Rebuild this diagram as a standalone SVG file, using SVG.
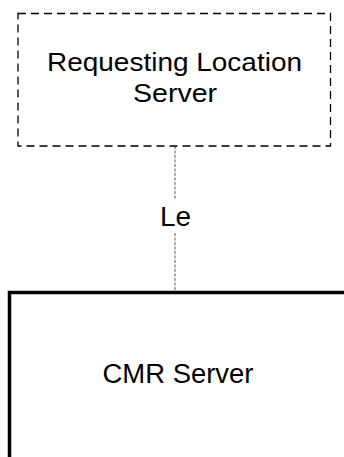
<svg xmlns="http://www.w3.org/2000/svg" width="344" height="457" viewBox="0 0 344 457">
<style>
.t{font-family:"Liberation Sans",Arial,sans-serif;font-size:26px;fill:#000;text-anchor:middle}
.dash{fill:none;stroke:#000;stroke-width:1.3;stroke-dasharray:8 5}
.solid{fill:none;stroke:#000;stroke-width:3.5}
.conn{fill:none;stroke:#777;stroke-width:1.2;stroke-dasharray:3 1.5}
</style>
<rect width="344" height="457" fill="#fff"/>
<g id="connectors">
<line class="conn" x1="175" y1="146" x2="175" y2="199"/>
<line class="conn" x1="175" y1="233" x2="175" y2="292"/>
<text class="t" x="175.5" y="226" style="font-size:28px">Le</text>
</g>
<g id="requesting-location-server">
<rect class="dash" x="18" y="13.5" width="312.5" height="132.5"/>
<text class="t" x="174.5" y="71" textLength="255" lengthAdjust="spacingAndGlyphs">Requesting Location</text>
<text class="t" x="175" y="102" textLength="84" lengthAdjust="spacingAndGlyphs">Server</text>
</g>
<g id="cmr-server">
<rect class="solid" x="9.5" y="292.5" width="360" height="200"/>
<text class="t" x="178" y="383" style="font-size:27px" textLength="151" lengthAdjust="spacingAndGlyphs">CMR Server</text>
</g>
</svg>
